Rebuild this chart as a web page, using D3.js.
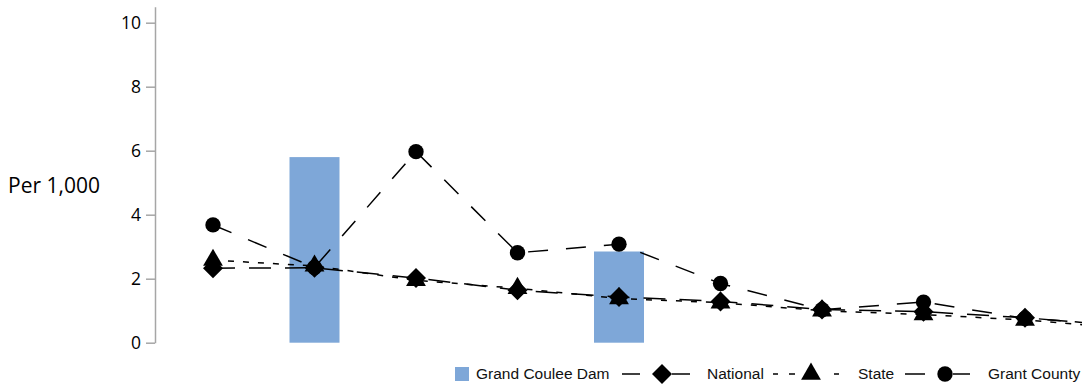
<!DOCTYPE html>
<html>
<head>
<meta charset="utf-8">
<script src="https://cdn.jsdelivr.net/npm/d3@7"></script>
<style>
  html, body { margin: 0; padding: 0; background: #fff; overflow: hidden; }
  svg { display: block; }
</style>
</head>
<body>
<svg id="chart" width="1082" height="386"></svg>
<script>
// ---- data ----
const categories = ["1", "2", "3", "4", "5", "6", "7", "8", "9", "10"];
const grandCouleeDam = [null, 5.8, null, null, 2.85, null, null, null, null, null];
const national = [2.33, 2.34, 2.02, 1.64, 1.43, 1.29, 1.04, 0.97, 0.78, 0.52];
const state = [2.58, 2.4, 1.95, 1.7, 1.38, 1.25, 1.0, 0.88, 0.71, 0.45];
const grantCounty = [3.68, 2.35, 5.97, 2.81, 3.08, 1.85, 1.03, 1.27, 0.76, 0.55];
const yTicks = [0, 2, 4, 6, 8, 10];
const yLabel = "Per 1,000";
const seriesNames = ["Grand Coulee Dam", "National", "State", "Grant County"];

// ---- layout ----
const svg = d3.select("#chart");
const axisX = 155;
const x = d3.scalePoint().domain(categories).range([213, 213 + 9 * 101.5]);
const y = d3.scaleLinear().domain([0, 10.5]).range([342.7, 6.7]);
const barW = 50;
const barColor = "#7ea7d8";

// y axis
const yAxis = svg.append("g")
  .attr("transform", `translate(${axisX},0)`)
  .call(d3.axisLeft(y).tickValues(yTicks).tickSize(9).tickPadding(5).tickSizeOuter(0));
yAxis.select(".domain").attr("stroke", "#a6a6a6").attr("stroke-width", 1.5);
yAxis.selectAll(".tick line").attr("stroke", "#a6a6a6").attr("stroke-width", 1.5);
yAxis.selectAll(".tick text")
  .attr("font-family", "'Open Sans', sans-serif")
  .attr("font-size", 17.5)
  .attr("fill", "#000");

svg.append("text")
  .attr("x", 8).attr("y", 186)
  .attr("dy", "0.35em")
  .attr("font-family", "'Open Sans', sans-serif")
  .attr("font-size", 21)
  .attr("fill", "#000")
  .text(yLabel);

// bars
svg.append("g").selectAll("rect")
  .data(categories.map((c, i) => ({ c, v: grandCouleeDam[i] })).filter(d => d.v != null))
  .join("rect")
  .attr("x", d => x(d.c) - barW / 2)
  .attr("width", barW)
  .attr("y", d => y(d.v))
  .attr("height", d => y(0) - y(d.v))
  .attr("fill", barColor);

// markers: diamond = rotated square
const diamondPath = d3.symbol().type(d3.symbolSquare).size(200)();
const trianglePath = d3.symbol().type(d3.symbolTriangle).size(170)();
const circlePath = d3.symbol().type(d3.symbolCircle).size(185)();

const series = [
  { name: seriesNames[1], values: national, dash: "22,14", path: diamondPath, rot: 45 },
  { name: seriesNames[2], values: state, dash: "6,9", path: trianglePath, rot: 0 },
  { name: seriesNames[3], values: grantCounty, dash: "20,18", path: circlePath, rot: 0 }
];
const line = d3.line().x((d, i) => x(categories[i])).y(d => y(d));

series.forEach(s => {
  svg.append("path")
    .datum(s.values)
    .attr("d", line)
    .attr("fill", "none")
    .attr("stroke", "#000")
    .attr("stroke-width", 1.5)
    .attr("stroke-dasharray", s.dash);
});
series.forEach(s => {
  svg.append("g").selectAll("path")
    .data(s.values)
    .join("path")
    .attr("transform", (d, i) => `translate(${x(categories[i])},${y(d)}) rotate(${s.rot})`)
    .attr("d", s.path)
    .attr("fill", "#000");
});

// legend
const lg = svg.append("g").attr("font-family", "'Liberation Sans', Arial, sans-serif")
  .attr("font-size", 15.5).attr("fill", "#111");
const ly = 374;
lg.append("rect").attr("x", 455).attr("y", ly - 7).attr("width", 14).attr("height", 14).attr("fill", barColor);
lg.append("text").attr("x", 476).attr("y", ly).attr("dy", "0.35em").text(seriesNames[0]);

function legendLine(x0, x1) {
  lg.append("line").attr("x1", x0).attr("x2", x1).attr("y1", ly).attr("y2", ly)
    .attr("stroke", "#000").attr("stroke-width", 1.5);
}
// National
legendLine(622, 640);
legendLine(672, 690);
lg.append("path").attr("transform", `translate(662,${ly}) rotate(45)`).attr("d", diamondPath).attr("fill", "#000");
lg.append("text").attr("x", 707).attr("y", ly).attr("dy", "0.35em").text(seriesNames[1]);
// State
legendLine(773, 778);
legendLine(789, 795);
legendLine(834, 839);
lg.append("path").attr("transform", `translate(811,${ly})`).attr("d", trianglePath).attr("fill", "#000");
lg.append("text").attr("x", 858).attr("y", ly).attr("dy", "0.35em").text(seriesNames[2]);
// Grant County
legendLine(905, 925);
legendLine(953, 970);
lg.append("path").attr("transform", `translate(945,${ly})`).attr("d", circlePath).attr("fill", "#000");
lg.append("text").attr("x", 988).attr("y", ly).attr("dy", "0.35em").text(seriesNames[3]);
</script>
</body>
</html>
